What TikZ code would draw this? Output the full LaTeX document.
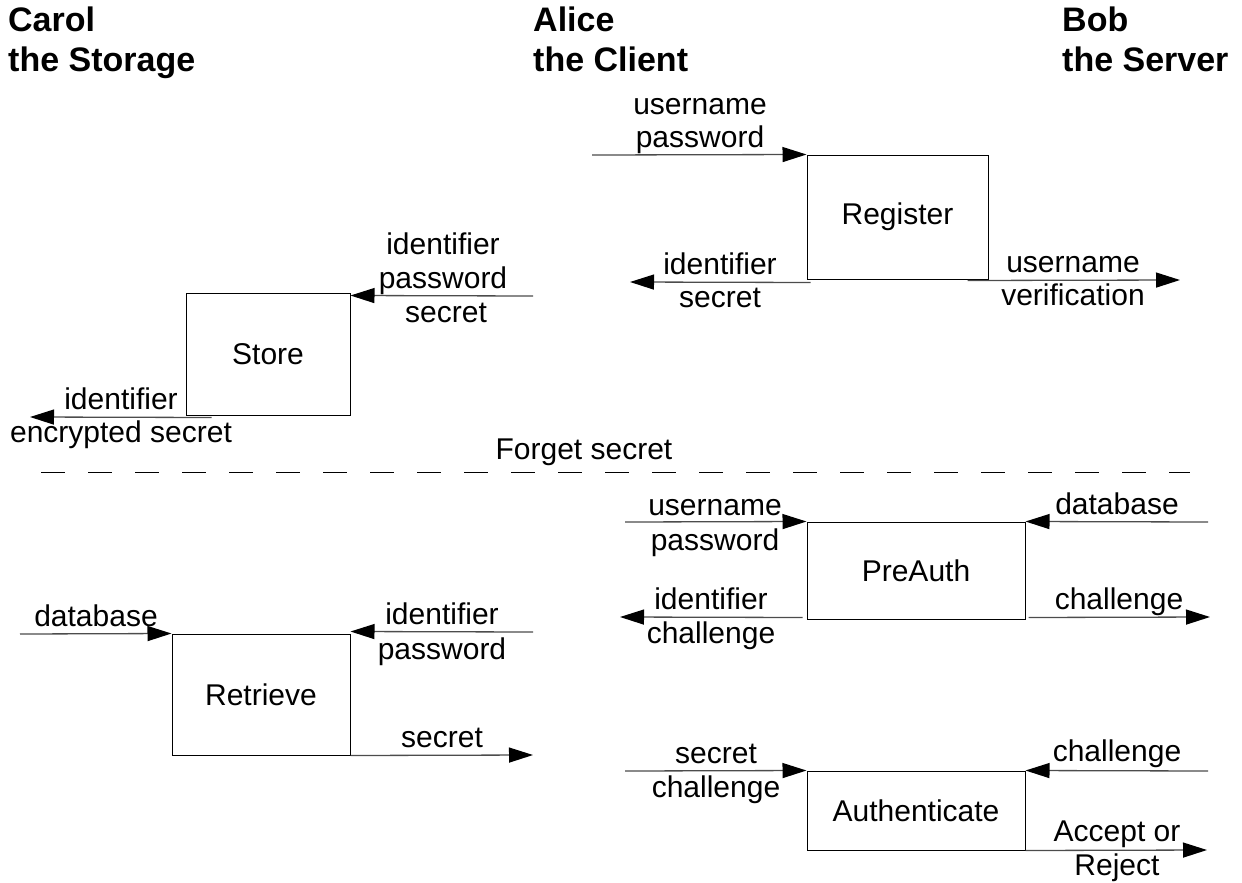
\documentclass[tikz,border=0pt]{standalone}
\usepackage{fontspec}
\setmainfont{Liberation Sans}
\usetikzlibrary{arrows.meta}

\begin{document}
\begin{tikzpicture}[x=1pt,y=-1pt,
    box/.style={draw,line width=1pt,inner sep=0pt,font=\fontsize{30}{34}\selectfont},
    flow/.style={draw=black!70,line width=1.3pt,-{Triangle[length=24pt,width=15pt,color=black]}},
    lbl/.style={anchor=base,inner sep=0pt,font=\fontsize{30}{34}\selectfont},
    party/.style={anchor=base west,inner sep=0pt,font=\fontsize{34}{39}\selectfont\bfseries}]
    \useasboundingbox (0,0) rectangle (1242,883);

    % parties
    \node[party] (carol) at (8,32) {Carol};
    \node[party] (carolrole) at (8,71) {the Storage};
    \node[party] (alice) at (533,32) {Alice};
    \node[party] (alicerole) at (533,71) {the Client};
    \node[party] (bob) at (1062,32) {Bob};
    \node[party] (bobrole) at (1062,71) {the Server};

    % boxes
    \node[box,minimum width=181pt,minimum height=124pt] (register) at (897.5,217) {Register};
    \node[box,minimum width=164pt,minimum height=122pt] (store) at (268,354) {Store};
    \node[box,minimum width=218pt,minimum height=97pt] (preauth) at (916,570.5) {PreAuth};
    \node[box,minimum width=178pt,minimum height=121pt] (retrieve) at (261,694.5) {Retrieve};
    \node[box,minimum width=218pt,minimum height=79pt] (auth) at (916,810.5) {Authenticate};

    % Register
    \coordinate (regin) at (592,155);
    \coordinate (regoutl) at (630,282);
    \coordinate (regoutr) at (1180,280);
    \draw[flow] (regin) -- (register.north west);
    \draw[flow] ([shift={(4,3)}]register.south west) -- (regoutl);
    \draw[flow] ([shift={(-21,1)}]register.south east) -- (regoutr);
    \node[lbl] (reginuser) at (700,114) {username};
    \node[lbl] (reginpass) at (700,147) {password};
    \node[lbl] (regoutid) at (720,274) {identifier};
    \node[lbl] (regoutsec) at (720,307) {secret};
    \node[lbl] (regoutuser) at (1073,272) {username};
    \node[lbl] (regoutver) at (1073,305) {verification};

    % Store
    \coordinate (storein) at (533,296);
    \coordinate (storeout) at (30,417);
    \draw[flow] (storein) -- ([shift={(0,3)}]store.north east);
    \draw[flow] ([shift={(26,2)}]store.south west) -- (storeout);
    \node[lbl] (storeinid) at (443,254) {identifier};
    \node[lbl] (storeinpass) at (443,288) {password};
    \node[lbl] (storeinsec) at (446,322) {secret};
    \node[lbl] (storeoutid) at (121,409) {identifier};
    \node[lbl] (storeoutsec) at (121,442) {encrypted secret};

    % forget
    \node[lbl] (forget) at (584,459) {Forget secret};
    \draw[dash pattern=on 24pt off 23pt,line width=1pt] (41,472) -- (1190,472);

    % PreAuth
    \coordinate (prein) at (625,522);
    \coordinate (predb) at (1208,522);
    \coordinate (preoutl) at (620,617);
    \coordinate (preoutr) at (1210,617);
    \draw[flow] (prein) -- (preauth.north west);
    \draw[flow] (predb) -- (preauth.north east);
    \draw[flow] ([shift={(-4,-2)}]preauth.south west) -- (preoutl);
    \draw[flow] ([shift={(3,-2)}]preauth.south east) -- (preoutr);
    \node[lbl] (preinuser) at (715,515) {username};
    \node[lbl] (preinpass) at (715,550) {password};
    \node[lbl] (predbtxt) at (1117,514) {database};
    \node[lbl] (preoutid) at (711,609) {identifier};
    \node[lbl] (preoutch) at (711,643) {challenge};
    \node[lbl] (preoutrch) at (1119,609) {challenge};

    % Retrieve
    \coordinate (retdb) at (20,634);
    \coordinate (retin) at (533,632);
    \coordinate (retout) at (533,755);
    \draw[flow] (retdb) -- (retrieve.north west);
    \draw[flow] (retin) -- ([shift={(0,-2)}]retrieve.north east);
    \draw[flow] (retrieve.south east) -- (retout);
    \node[lbl] (retdbtxt) at (96,626) {database};
    \node[lbl] (retinid) at (442,624) {identifier};
    \node[lbl] (retinpass) at (442,659) {password};
    \node[lbl] (retoutsec) at (442,747) {secret};

    % Authenticate
    \coordinate (authin) at (625,771);
    \coordinate (authch) at (1208,771);
    \coordinate (authout) at (1207,850);
    \draw[flow] (authin) -- (auth.north west);
    \draw[flow] (authch) -- (auth.north east);
    \draw[flow] (auth.south east) -- (authout);
    \node[lbl] (authinsec) at (716,763) {secret};
    \node[lbl] (authinch) at (716,797) {challenge};
    \node[lbl] (authchtxt) at (1117,761) {challenge};
    \node[lbl] (authacc) at (1117,841) {Accept or};
    \node[lbl] (authrej) at (1117,875) {Reject};
\end{tikzpicture}
\end{document}
